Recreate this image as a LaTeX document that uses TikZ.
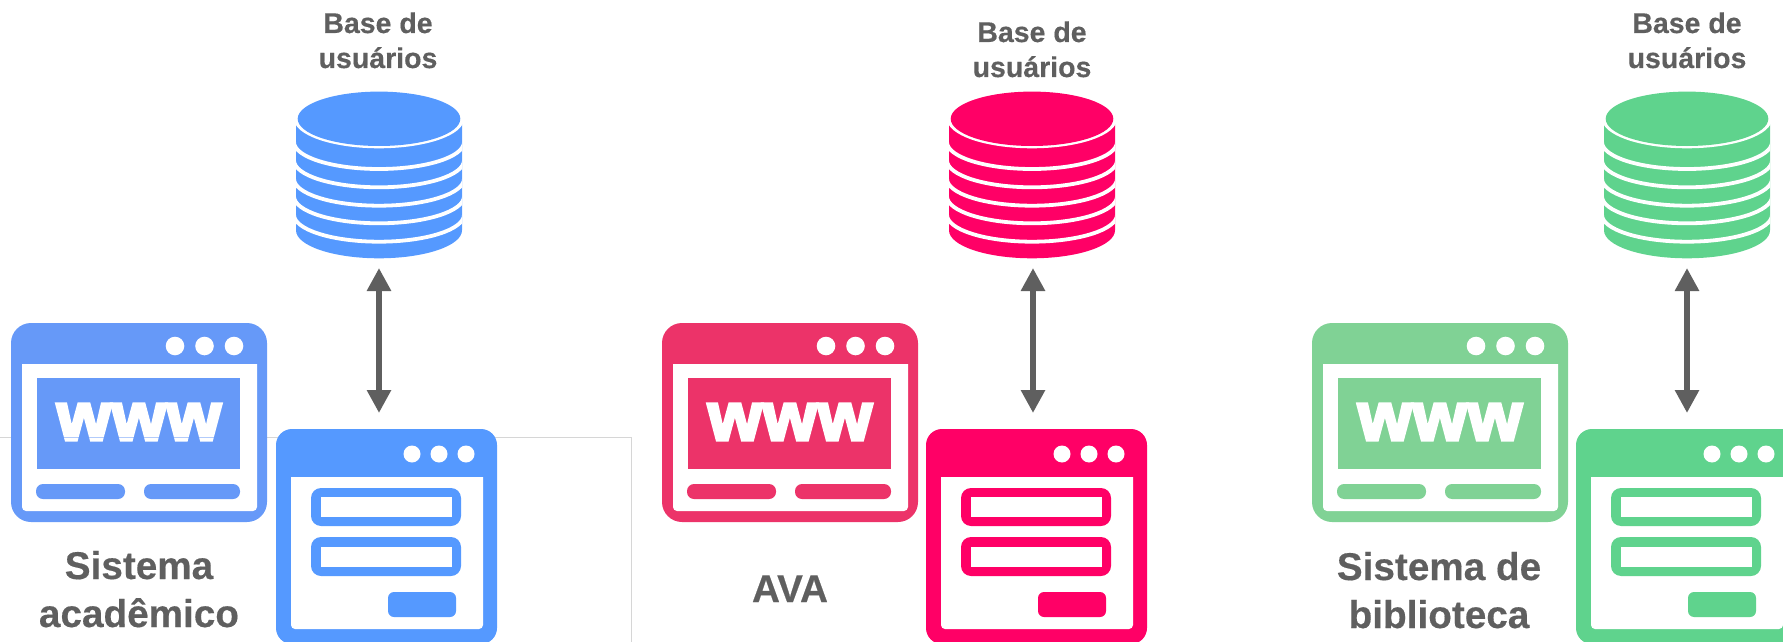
\documentclass[tikz,border=0pt]{standalone}
\usepackage{fontspec}
\setmainfont[BoldFeatures={FakeBold=0.4}]{Liberation Sans}
\newfontfamily\wwwfont[FakeBold=4.5,LetterSpace=1.5]{Liberation Sans Bold}
\usetikzlibrary{arrows.meta}
\definecolor{txt}{HTML}{5F5F5F}
\definecolor{frameline}{HTML}{D6D6D6}
\definecolor{blueW}{HTML}{6699F8}
\definecolor{blueF}{HTML}{5599FF}
\definecolor{redW}{HTML}{EC3369}
\definecolor{redF}{HTML}{FF0066}
\definecolor{greenW}{HTML}{80D295}
\definecolor{greenF}{HTML}{5FD38D}
\tikzset{
  x=1pt,y=-1pt,
  dbtext/.style={text=txt,font=\bfseries\fontsize{28.5}{35}\selectfont,inner sep=0pt,anchor=base},
  systext/.style={text=txt,font=\bfseries\fontsize{38.7}{47}\selectfont,inner sep=0pt,anchor=base},
  link/.style={draw=txt,line width=6.5pt,{Triangle[width=23pt,length=23pt]}-{Triangle[width=23pt,length=23pt]}},
}
% #1 colour, #2 dx, #3 name
\newcommand{\wwwicon}[3]{%
  \begin{scope}[shift={(#2,0)}]
    \fill[#1,rounded corners=20pt] (11,323) rectangle (267,522);
    \fill[white] (22,364) -- (257,364) [rounded corners=4pt] -- (257,511) -- (22,511) [sharp corners] -- cycle;
    \foreach \px in {175,204.5,234}{\fill[white] (\px,346) circle[radius=9.3pt];}
    \fill[#1] (37,378) rectangle (240,469);
    \fill[#1,rounded corners=7pt] (36,484) rectangle (125,499);
    \fill[#1,rounded corners=7pt] (144,484) rectangle (240,499);
    \node[text=white,inner sep=0pt,anchor=center] (#3) at (139,422) {\resizebox{164pt}{36pt}{\wwwfont www}};
  \end{scope}}
\newcommand{\formicon}[3]{%
  \begin{scope}[shift={(#2,0)}]
    \fill[#1,rounded corners=16pt] (278,429) rectangle (499,644);
    \fill[white] (293,477) -- (485,477) [rounded corners=4pt] -- (485,629) -- (293,629) [sharp corners] -- cycle;
    \foreach \px in {414,441,468}{\fill[white] (\px,454) circle[radius=8.5pt];}
    \fill[#1,rounded corners=10pt] (313,488) rectangle (463,526);
    \fill[white] (323,497) rectangle (454,517);
    \fill[#1,rounded corners=10pt] (313,537) rectangle (463,576);
    \fill[white] (323,547) rectangle (454,567);
    \fill[#1,rounded corners=6pt] (390,592) rectangle (458,617);
  \end{scope}}
\newcommand{\dbicon}[2]{%
  \begin{scope}[shift={(#2,0)}]
    \begin{scope}
      \clip (296,124) -- (296,230.3) arc[start angle=180,end angle=360,x radius=83,y radius=-28] -- (462,124) -- cycle;
      \fill[#1] (290,120) rectangle (470,262);
      \foreach \c in {142,160.3,178.7,196.3,214.7}{
        \draw[white,line width=3.8pt] (294,\c) arc[start angle=180,end angle=360,x radius=85,y radius=-27];}
    \end{scope}
    \fill[white] (379,118.8) ellipse[x radius=85,y radius=29.5];
    \fill[#1] (379,118.8) ellipse[x radius=81.3,y radius=27.2];
  \end{scope}}
\begin{document}
\begin{tikzpicture}
\useasboundingbox (0,0) rectangle (1783,642);
\draw[frameline,line width=0.9pt] (0,437) -- (631,437) -- (631,642);
% column 1
\dbicon{blueF}{0}
\node[dbtext] (la) at (378,33) {Base de};
\node[dbtext] (lb) at (378,68) {usuários};
\wwwicon{blueW}{0}{wA}
\draw[blueW,opacity=.5,line width=0.8pt] (37,437) -- (240,437);
\formicon{blueF}{-2}{fA}
\coordinate (dbA) at (379,268);
\coordinate (formA) at (379,413);
\draw[link] (dbA) -- (formA);
\node[systext] (sa) at (139,579) {Sistema};
\node[systext] (sb) at (139,627) {acadêmico};
% column 2
\dbicon{redF}{653}
\node[dbtext] (lc) at (1032,42) {Base de};
\node[dbtext] (ld) at (1032,77) {usuários};
\wwwicon{redW}{651}{wB}
\formicon{redF}{648}{fB}
\coordinate (dbB) at (1033,268);
\coordinate (formB) at (1033,413);
\draw[link] (dbB) -- (formB);
\node[systext] (se) at (790,602) {AVA};
% column 3
\dbicon{greenF}{1308}
\node[dbtext] (lf) at (1687,33) {Base de};
\node[dbtext] (lg) at (1687,68) {usuários};
\wwwicon{greenW}{1301}{wC}
\formicon{greenF}{1298}{fC}
\coordinate (dbC) at (1687,268);
\coordinate (formC) at (1687,413);
\draw[link] (dbC) -- (formC);
\node[systext] (sh) at (1439,580) {Sistema de};
\node[systext] (si) at (1439,628) {biblioteca};
\end{tikzpicture}
\end{document}
